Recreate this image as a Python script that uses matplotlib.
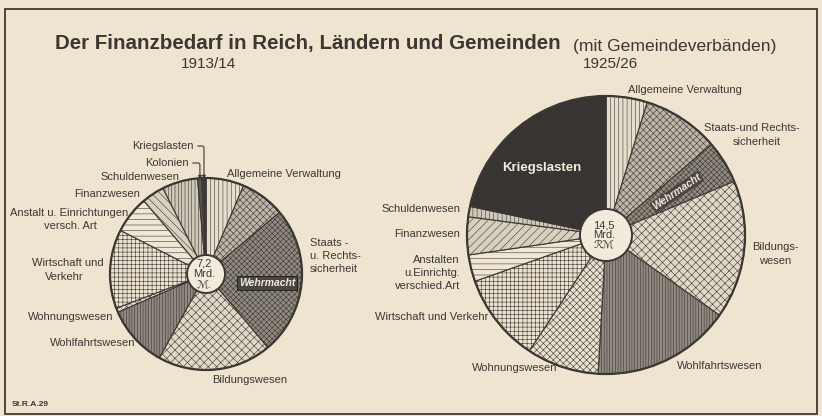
import numpy as np
import matplotlib
matplotlib.use("Agg")
import matplotlib.pyplot as plt
from matplotlib.patches import Circle, Rectangle

# ---------------- data (shares in % of total expenditure) ----------------
categories_1913 = ["Allgemeine Verwaltung", "Staats- u. Rechtssicherheit", "Wehrmacht",
                   "Bildungswesen", "Wohlfahrtswesen", "Wohnungswesen",
                   "Wirtschaft und Verkehr", "Anstalten u. Einrichtungen", "Finanzwesen",
                   "Schuldenwesen", "Kolonien", "Kriegslasten"]
share_1913 = [6.4, 7.5, 25.0, 19.2, 10.4, 0.7, 13.3, 6.3, 3.8, 6.0, 0.7, 0.7]

categories_1925 = ["Allgemeine Verwaltung", "Staats- u. Rechtssicherheit", "Wehrmacht",
                   "Bildungswesen", "Wohlfahrtswesen", "Wohnungswesen",
                   "Wirtschaft und Verkehr", "Anstalten u. Einrichtungen", "Finanzwesen",
                   "Schuldenwesen", "Kriegslasten"]
share_1925 = [4.8, 8.9, 5.0, 16.1, 16.1, 8.4, 10.3, 3.1, 4.4, 1.2, 21.7]

total_1913 = ["7,2", "Mrd.", "\u2133."]
total_1925 = ["14,5", "Mrd.", "\u211b\u2133"]
years = ["1913/14", "1925/26"]

# ---------------- style ----------------
W, H = 822, 416
BG = "#eee4cf"
INK = "#3b3733"
plt.rcParams["hatch.linewidth"] = 0.4
SANS = ["Liberation Sans", "DejaVu Sans"]

style_1913 = {
    "Allgemeine Verwaltung": ("#e6decd", "||||"),
    "Staats- u. Rechtssicherheit": ("#bdb6a8", "xxxxx"),
    "Wehrmacht": ("#8f897f", "xxxxxx"),
    "Bildungswesen": ("#e0d8c7", "xxxx"),
    "Wohlfahrtswesen": ("#8f8980", "||||||"),
    "Wohnungswesen": ("#e9e1d0", "xxxxx"),
    "Wirtschaft und Verkehr": ("#ebe2d0", "++++"),
    "Anstalten u. Einrichtungen": ("#efe6d4", "---"),
    "Finanzwesen": ("#d8d0bf", "\\\\\\\\"),
    "Schuldenwesen": ("#cfc7b7", "|||||"),
    "Kolonien": ("#5a5550", ""),
    "Kriegslasten": ("#3e3a36", ""),
}
style_1925 = dict(style_1913)
style_1925["Finanzwesen"] = ("#d8d0bf", "////")
style_1925["Schuldenwesen"] = ("#d0c8b8", "||||")
style_1925["Kriegslasten"] = ("#383431", "")

fig = plt.figure(figsize=(W / 100, H / 100), dpi=100)
fig.patch.set_facecolor(BG)
ax = fig.add_axes([0, 0, 1, 1])
ax.set_facecolor(BG)


def Y(y):
    return H - y


def draw_pie(values, cats, styles, cx, cy, r, r_in, center_txt):
    cols = [styles[c][0] for c in cats]
    hats = [styles[c][1] for c in cats]
    wedges, _ = ax.pie(values, colors=cols, hatch=hats, startangle=90, counterclock=False,
                       center=(cx, Y(cy)), radius=r,
                       wedgeprops=dict(edgecolor=INK, linewidth=0.8))
    ax.add_patch(Circle((cx, Y(cy)), r, fill=False, ec=INK, lw=1.6, zorder=5))
    ax.add_patch(Circle((cx, Y(cy)), r_in, fc="#f2eadb", ec=INK, lw=1.4, zorder=6))
    ax.text(cx - 2, Y(cy), "\n".join(center_txt), ha="center", va="center", fontsize=8,
            color=INK, family=SANS, linespacing=1.0, zorder=7)
    return wedges


def mid_angle(values, i):
    cum = np.cumsum([0] + list(values))
    a = 90 - 360 * (cum[i] + cum[i + 1]) / 2 / sum(values)
    return np.deg2rad(a)


# left pie
cxL, cyL, rL = 206, 274, 96
draw_pie(share_1913, categories_1913, style_1913, cxL, cyL, rL, 19, total_1913)
# right pie
cxR, cyR, rR = 606, 235, 139
draw_pie(share_1925, categories_1925, style_1925, cxR, cyR, rR, 26, total_1925)

ax.set_xlim(0, W)
ax.set_ylim(0, H)
ax.set_aspect("equal")
ax.axis("off")

# frame
ax.add_patch(Rectangle((5, Y(414)), 812, 405, fill=False, ec="#4a4540", lw=1.4))

# titles
ax.text(55, Y(44), "Der Finanzbedarf in Reich, Ländern und Gemeinden", fontsize=14.8,
        fontweight="bold", family=SANS, color=INK, ha="left", va="center")
ax.text(573, Y(46), "(mit Gemeindeverbänden)", fontsize=12.6, family=SANS, color=INK,
        ha="left", va="center")
ax.text(208, Y(64), years[0], fontsize=11, family=SANS, color=INK, ha="center", va="center")
ax.text(610, Y(64), years[1], fontsize=11, family=SANS, color=INK, ha="center", va="center")
ax.text(12, Y(405), "St.R.A.29", fontsize=6, family=SANS, fontweight="bold",
        color=INK, ha="left", va="center")

lab = dict(fontsize=8, family=SANS, color=INK, va="center")

# left labels
ax.text(227, Y(174), "Allgemeine Verwaltung", ha="left", **lab)
ax.text(310, Y(243), "Staats -", ha="left", **lab)
ax.text(310, Y(256), "u. Rechts-", ha="left", **lab)
ax.text(310, Y(269), "sicherheit", ha="left", **lab)
ax.text(250, Y(380), "Bildungswesen", ha="center", **lab)
ax.text(135, Y(343), "Wohlfahrtswesen", ha="right", **lab)
ax.text(113, Y(317), "Wohnungswesen", ha="right", **lab)
ax.text(68, Y(263), "Wirtschaft und", ha="center", **lab)
ax.text(64, Y(277), "Verkehr", ha="center", **lab)
ax.text(128, Y(213), "Anstalt u. Einrichtungen", ha="right", **lab)
ax.text(70, Y(226), "versch. Art", ha="center", **lab)
ax.text(140, Y(194), "Finanzwesen", ha="right", **lab)
ax.text(179, Y(177), "Schuldenwesen", ha="right", **lab)

# leader labels Kolonien / Kriegslasten
for name, ty, tx_end in [("Kriegslasten", 146, 194), ("Kolonien", 163, 189)]:
    i = categories_1913.index(name)
    a = mid_angle(share_1913, i)
    px = cxL + (rL - 4) * np.cos(a)
    py = Y(cyL) + (rL - 4) * np.sin(a)
    ax.text(tx_end, Y(ty), name, ha="right", **lab)
    ax.annotate("", xy=(px, py), xytext=(tx_end + 1, Y(ty)),
                arrowprops=dict(arrowstyle="-|>", color=INK, lw=0.8, mutation_scale=5,
                                connectionstyle="angle,angleA=0,angleB=90,rad=2"))

ax.text(267, Y(283), "Wehrmacht", ha="center", fontsize=7.5, family=SANS,
        fontweight="bold", style="italic", color="#f3ecdc", va="center", zorder=8,
        bbox=dict(boxstyle="square,pad=0.15", fc="#4a4540", ec="#2a2622", lw=0.8))

# right labels
ax.text(628, Y(90), "Allgemeine Verwaltung", ha="left", **lab)
ax.text(752, Y(128), "Staats-und Rechts-", ha="center", **lab)
ax.text(757, Y(142), "sicherheit", ha="center", **lab)
ax.text(775, Y(247), "Bildungs-", ha="center", **lab)
ax.text(775, Y(261), "wesen", ha="center", **lab)
ax.text(720, Y(366), "Wohlfahrtswesen", ha="center", **lab)
ax.text(515, Y(368), "Wohnungswesen", ha="center", **lab)
ax.text(488, Y(317), "Wirtschaft und Verkehr", ha="right", **lab)
ax.text(460, Y(260), "Anstalten", ha="right", **lab)
ax.text(460, Y(273), "u.Einrichtg.", ha="right", **lab)
ax.text(460, Y(286), "verschied.Art", ha="right", **lab)
ax.text(460, Y(234), "Finanzwesen", ha="right", **lab)
ax.text(460, Y(209), "Schuldenwesen", ha="right", **lab)

ax.text(542, Y(168), "Kriegslasten", ha="center", fontsize=9.5, family=SANS,
        fontweight="bold", color="#f3ecdc", va="center", zorder=8)
ax.text(677, Y(192), "Wehrmacht", ha="center", fontsize=7.5, family=SANS,
        fontweight="bold", style="italic", color="#f3ecdc", va="center", rotation=34,
        zorder=8, bbox=dict(boxstyle="square,pad=0.1", fc="#4a4540", ec="none"))

fig.savefig("out.png", dpi=100, facecolor=BG)
